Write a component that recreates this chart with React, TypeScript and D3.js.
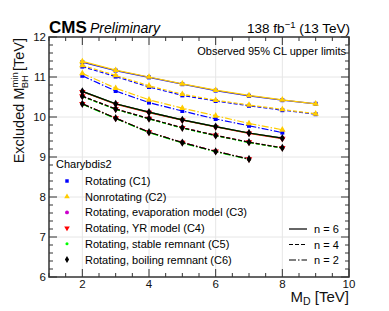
import React from "react";
import * as d3 from "d3";

// M_D points [TeV]
const mdLong = [2, 3, 4, 5, 6, 7, 8, 9];
const mdMid = [2, 3, 4, 5, 6, 7, 8];
const mdShort = [2, 3, 4, 5, 6, 7];

// excluded M_BH^min [TeV]
const c1N6 = [11.37, 11.16, 10.99, 10.82, 10.66, 10.53, 10.42, 10.33];
const c1N4 = [11.26, 11.01, 10.75, 10.54, 10.4, 10.28, 10.17, 10.07];
const c1N2 = [11.03, 10.65, 10.36, 10.15, 9.95, 9.78, 9.61];
const c2N6 = [11.39, 11.17, 11.0, 10.83, 10.67, 10.54, 10.43, 10.33];
const c2N4 = [11.29, 11.04, 10.78, 10.57, 10.42, 10.3, 10.19, 10.08];
const c2N2 = [11.09, 10.72, 10.43, 10.22, 10.03, 9.84, 9.68];
const c3N6 = [10.64, 10.33, 10.12, 9.93, 9.76, 9.6, 9.47];
const c3N4 = [10.52, 10.2, 9.96, 9.73, 9.54, 9.37, 9.23];
const c3N2 = [10.33, 9.97, 9.62, 9.36, 9.14, 8.95];
const c4N6 = [10.63, 10.32, 10.11, 9.92, 9.75, 9.59, 9.46];
const c4N4 = [10.52, 10.2, 9.96, 9.73, 9.54, 9.37, 9.23];
const c4N2 = [10.33, 9.97, 9.62, 9.36, 9.14, 8.95];
const c5N6 = [10.64, 10.33, 10.12, 9.93, 9.76, 9.6, 9.47];
const c5N4 = [10.51, 10.19, 9.95, 9.72, 9.53, 9.36, 9.22];
const c5N2 = [10.32, 9.96, 9.61, 9.35, 9.13, 8.94];
const c6N6 = [10.64, 10.33, 10.12, 9.93, 9.76, 9.6, 9.47];
const c6N4 = [10.52, 10.2, 9.96, 9.73, 9.54, 9.37, 9.23];
const c6N2 = [10.33, 9.97, 9.62, 9.36, 9.14, 8.95];

const modelNames = [
  "Rotating (C1)",
  "Nonrotating (C2)",
  "Rotating, evaporation model (C3)",
  "Rotating, YR model (C4)",
  "Rotating, stable remnant (C5)",
  "Rotating, boiling remnant (C6)",
];
const modelColors = ["#0000ff", "#ffcc00", "#cc00cc", "#ff0000", "#00ff00", "#000000"];
const nLabels = ["n = 6", "n = 4", "n = 2"];
const dashes = ["none", "4,2", "7,2,1.5,2"];

const xTicks = [2, 4, 6, 8, 10];
const yTicks = [6, 7, 8, 9, 10, 11, 12];

const W = 389;
const H = 311;
const font = "'Liberation Sans', Arial, Helvetica, sans-serif";

const markerOf = (i: number, k = 1) => {
  const types = [d3.symbolSquare, d3.symbolTriangle, d3.symbolCircle, d3.symbolTriangle, d3.symbolCircle, d3.symbolDiamond];
  const sizes = [16, 18, 16, 18, 10, 20];
  return d3.symbol().type(types[i]).size(sizes[i] * k)() as string;
};

export default function App() {
  const x = d3.scaleLinear().domain([1, 10]).range([49, 349]);
  const y = d3.scaleLinear().domain([6, 12]).range([277, 37]);

  const table = [
    [c1N6, c1N4, c1N2],
    [c2N6, c2N4, c2N2],
    [c3N6, c3N4, c3N2],
    [c4N6, c4N4, c4N2],
    [c5N6, c5N4, c5N2],
    [c6N6, c6N4, c6N2],
  ];
  const mdFor = (v: number[]) => (v.length === 8 ? mdLong : v.length === 7 ? mdMid : mdShort);

  const line = d3
    .line<[number, number]>()
    .x((d) => x(d[0]))
    .y((d) => y(d[1]));

  const xMinor = d3.range(1, 10.01, 0.5);
  const yMinor = d3.range(6, 12.01, 0.2);
  const [x0, x1] = x.range();
  const [y0, y1] = y.range();

  return (
    <div style={{ position: "fixed", left: 0, top: 0 }}>
      <svg width={W} height={H} style={{ display: "block", background: "#fff" }} fontFamily={font}>
        {/* grid */}
        {xTicks.filter((t) => t > 1 && t < 10).map((t) => (
          <line key={"gx" + t} x1={x(t)} x2={x(t)} y1={y1} y2={y0} stroke="#e6e6e6" strokeWidth={1} />
        ))}
        {yTicks.filter((t) => t > 6 && t < 12).map((t) => (
          <line key={"gy" + t} x1={x0} x2={x1} y1={y(t)} y2={y(t)} stroke="#e6e6e6" strokeWidth={1} />
        ))}

        {/* curves */}
        {table.map((rows, mi) =>
          rows.map((vals, ni) => {
            const pts = vals.map((v, k) => [mdFor(vals)[k], v] as [number, number]);
            return (
              <g key={`s${mi}-${ni}`}>
                <path
                  d={line(pts) as string}
                  fill="none"
                  stroke={modelColors[mi]}
                  strokeWidth={1.2}
                  strokeDasharray={dashes[ni]}
                />
                {pts.map((p, k) => (
                  <path
                    key={k}
                    d={markerOf(mi)}
                    transform={`translate(${x(p[0])},${y(p[1])})${mi === 3 ? " rotate(180)" : ""}`}
                    fill={modelColors[mi]}
                  />
                ))}
              </g>
            );
          })
        )}

        {/* ticks */}
        {xMinor.map((t) => {
          const len = xTicks.includes(t) ? 8 : 4;
          return (
            <g key={"tx" + t} stroke="#333" strokeWidth={1}>
              <line x1={x(t)} x2={x(t)} y1={y0} y2={y0 - len} />
              <line x1={x(t)} x2={x(t)} y1={y1} y2={y1 + len} />
            </g>
          );
        })}
        {yMinor.map((t) => {
          const major = Math.abs(t - Math.round(t)) < 1e-6;
          const len = major ? 8 : 4;
          return (
            <g key={"ty" + t} stroke="#333" strokeWidth={1}>
              <line x1={x0} x2={x0 + len} y1={y(t)} y2={y(t)} />
              <line x1={x1} x2={x1 - len} y1={y(t)} y2={y(t)} />
            </g>
          );
        })}

        {/* frame */}
        <rect x={x0} y={y1} width={x1 - x0} height={y0 - y1} fill="none" stroke="#333" strokeWidth={1.5} />

        {/* tick labels */}
        {xTicks.map((t) => (
          <text key={"lx" + t} x={x(t)} y={288} fontSize={11.5} textAnchor="middle" fill="#111">
            {t}
          </text>
        ))}
        {yTicks.map((t) => (
          <text key={"ly" + t} x={46} y={y(t) + 4} fontSize={11.5} textAnchor="end" fill="#111">
            {t}
          </text>
        ))}

        {/* axis titles */}
        <text x={349} y={302} fontSize={15} textAnchor="end" fill="#111">
          M<tspan fontSize={10.5} dy={3}>D</tspan>
          <tspan dy={-3}> [TeV]</tspan>
        </text>
        <text transform="translate(24,38) rotate(-90)" fontSize={14.5} textAnchor="end" fill="#111">
          Excluded M
          <tspan fontSize={9.5} dy={-6}>min</tspan>
          <tspan fontSize={9.5} dx={-16} dy={10}>BH</tspan>
          <tspan dy={-4}> [TeV]</tspan>
        </text>

        {/* header */}
        <text x={49} y={33} fontSize={17} fontWeight="bold" fill="#000">
          CMS
        </text>
        <text x={90} y={33} fontSize={14} fontStyle="italic" fill="#000">
          Preliminary
        </text>
        <text x={350} y={33} fontSize={13.5} textAnchor="end" fill="#000">
          138 fb<tspan fontSize={9.5} dy={-5}>−1</tspan>
          <tspan dy={5}> (13 TeV)</tspan>
        </text>
        <text x={346} y={55} fontSize={11} textAnchor="end" fill="#000">
          Observed 95% CL upper limits
        </text>

        {/* model legend */}
        <text x={56} y={167.5} fontSize={11} fill="#000">
          Charybdis2
        </text>
        {modelNames.map((name, i) => {
          const cy = 181 + i * 15.7;
          return (
            <g key={"lg" + i}>
              <path
                d={markerOf(i, 0.75)}
                transform={`translate(67,${cy})${i === 3 ? " rotate(180)" : ""}`}
                fill={modelColors[i]}
              />
              <text x={85} y={cy + 4} fontSize={11} fill="#000">
                {name}
              </text>
            </g>
          );
        })}

        {/* n legend */}
        {nLabels.map((lab, i) => {
          const cy = 229 + i * 15.5;
          return (
            <g key={"ln" + i}>
              <line x1={289} x2={307} y1={cy} y2={cy} stroke="#000" strokeWidth={1.2} strokeDasharray={dashes[i]} />
              <text x={314} y={cy + 4} fontSize={11} fill="#000">
                {lab}
              </text>
            </g>
          );
        })}
      </svg>
    </div>
  );
}
